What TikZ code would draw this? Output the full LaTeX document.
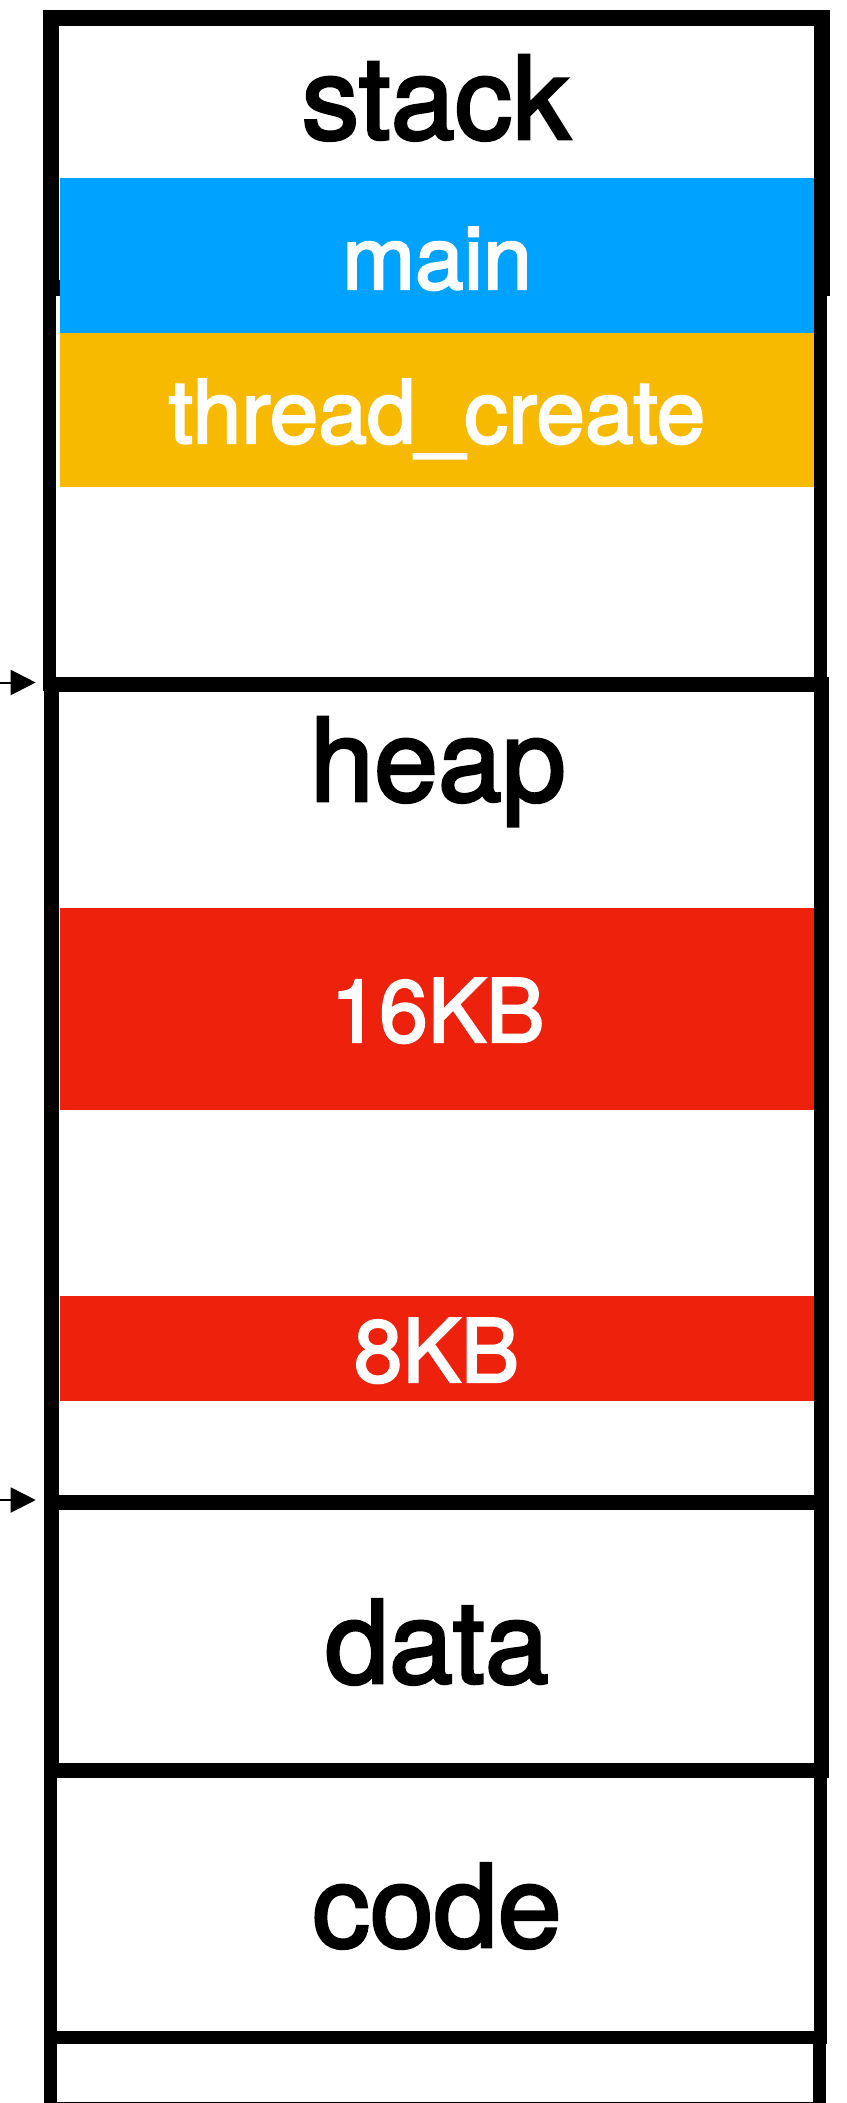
\documentclass[tikz,border=0pt]{standalone}
\usepackage{fontspec}
\setmainfont{TeX Gyre Heros}
\newfontfamily\lblfont{TeX Gyre Heros}[FakeBold=2.5]
\usetikzlibrary{arrows.meta}
\definecolor{segblue}{RGB}{0,162,255}
\definecolor{segorange}{RGB}{248,186,0}
\definecolor{segred}{RGB}{238,34,12}
\begin{document}
\begin{tikzpicture}[x=1pt,y=-1pt,
  frame/.style={draw=black,line width=#1},
  frame/.default=15pt,
  block/.style={fill=#1,draw=none,inner sep=0pt,outer sep=0pt,minimum width=754pt},
  biglabel/.style={font=\lblfont\fontsize{115}{130}\selectfont,text=black,inner sep=0pt,anchor=base},
  smalllabel/.style={font=\lblfont\fontsize{87.5}{100}\selectfont,text=white,inner sep=0pt,anchor=base},
  pointer/.style={line width=2pt,-{Triangle[length=25pt,width=25pt]}}]
\useasboundingbox (0,0) rectangle (846,2103);

% memory segments, stacked top to bottom
\draw[frame=16pt] (51,18.5) rectangle (821.5,288);
\draw[frame=13pt] (49.5,288) rectangle (820,684);
\draw[frame] (51,684) rectangle (821.5,1502);
\draw[frame] (51,1502) rectangle (821.5,1770);
\draw[frame=13pt] (50,1770) rectangle (820,2037);
\draw[frame=13pt] (50,2037) rectangle (819,2108);

% coloured frames inside stack and heap
\node[block=segblue,   minimum height=155pt] (mainblk)   at (437,255.5) {};
\node[block=segorange, minimum height=154pt] (threadblk) at (437,410) {};
\node[block=segred,    minimum height=202pt] (bigblk)    at (437,1009) {};
\node[block=segred,    minimum height=105pt] (smallblk)  at (437,1348.5) {};

% segment names
\node[biglabel] (stacklbl) at (436,139) {stack};
\node[biglabel] (heaplbl)  at (438,801) {heap};
\node[biglabel] (datalbl)  at (437,1683) {data};
\node[biglabel] (codelbl)  at (437,1947) {code};

% labels on the coloured frames
\node[smalllabel] (mainlbl)   at (437,289) {main};
\node[smalllabel] (threadlbl) at (437,443) {thread\_create};
\node[smalllabel] (biglbl)    at (437.5,1042) {16KB};
\node[smalllabel] (smalllbl)  at (436.5,1382) {8KB};

% boundary pointers
\coordinate (heapfrom) at (0,682.5);
\coordinate (heapto)   at (35.7,682.5);
\coordinate (datafrom) at (0,1500);
\coordinate (datato)   at (35.7,1500);
\draw[pointer] (heapfrom) -- (heapto);
\draw[pointer] (datafrom) -- (datato);
\end{tikzpicture}
\end{document}
